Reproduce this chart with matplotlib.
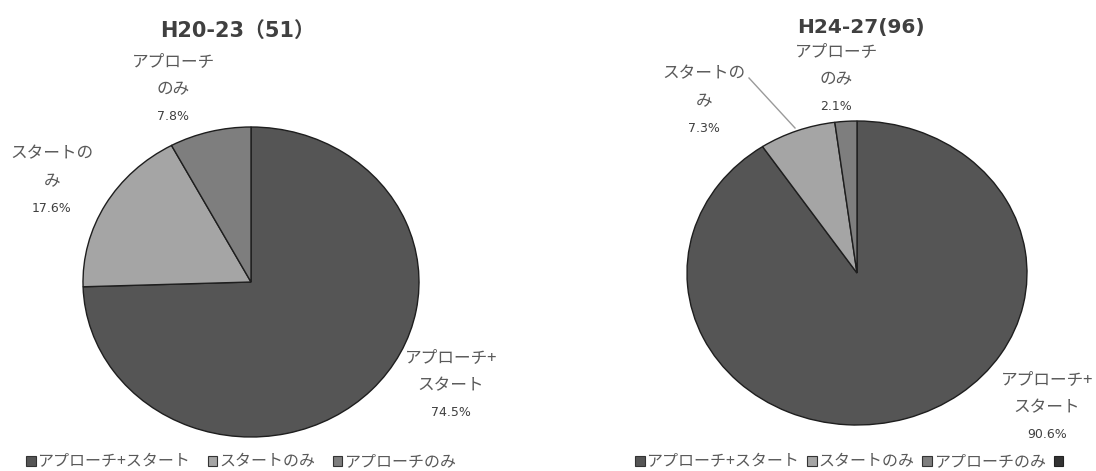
import matplotlib
matplotlib.use('Agg')
import matplotlib.pyplot as plt
from matplotlib.patches import Patch
from matplotlib.lines import Line2D

plt.rcParams['font.family'] = ['Noto Sans CJK JP', 'DejaVu Sans']
LATIN = ['DejaVu Sans', 'Noto Sans CJK JP']

W, H = 1096, 471

categories = ['アプローチ+スタート', 'スタートのみ', 'アプローチのみ']
slice_labels = ['アプローチ+\nスタート', 'スタートの\nみ', 'アプローチ\nのみ']
counts_h20 = [38, 9, 4]    # H20-23, n=51
counts_h24 = [87, 7, 2]    # H24-27, n=96
titles = ['H20-23（51）', 'H24-27(96)']
colors = ['#555555', '#a5a5a5', '#7e7e7e']

fig = plt.figure(figsize=(W / 100, H / 100), dpi=100)
fig.patch.set_facecolor('white')


def px(x, y):
    return x / W, 1 - y / H


def pie_axes(cx, cy, rx, ry):
    l, b = px(cx - rx, cy + ry)
    return fig.add_axes([l, b, 2 * rx / W, 2 * ry / H])


def draw_pie(ax, counts):
    wedges, _ = ax.pie(counts, colors=colors, startangle=90, counterclock=False,
                       radius=1, wedgeprops=dict(edgecolor='#1e1e1e', linewidth=1.0))
    for w in wedges:
        w.set_clip_on(False)
    ax.set_aspect('auto')
    ax.set_xlim(-1, 1)
    ax.set_ylim(-1, 1)
    ax.axis('off')


def label(x, y, name, count, total):
    pct = count / total * 100
    lines = name.split('\n')
    for i, t in enumerate(lines):
        fig.text(*px(x, y + i * 28), t, ha='center', va='center',
                 fontsize=12, color='#595959')
    fig.text(*px(x, y + len(lines) * 27), f'{pct:.1f}%', ha='center', va='center',
             fontsize=9, color='#404040', family=LATIN)


# 左：H20-23
ax1 = pie_axes(251, 282, 168, 155)
draw_pie(ax1, counts_h20)
fig.text(*px(238, 31), titles[0], ha='center', va='center',
         fontsize=15, fontweight='bold', color='#404040', family=LATIN)
t1 = sum(counts_h20)
label(451, 358, slice_labels[0], counts_h20[0], t1)
label(52, 154, slice_labels[1], counts_h20[1], t1)
label(173, 62, slice_labels[2], counts_h20[2], t1)

# 右：H24-27
ax2 = pie_axes(857, 273, 170, 152)
draw_pie(ax2, counts_h24)
fig.text(*px(861, 27), titles[1], ha='center', va='center',
         fontsize=14.5, fontweight='bold', color='#404040', family=LATIN)
t2 = sum(counts_h24)
label(1047, 380, slice_labels[0], counts_h24[0], t2)
label(704, 74, slice_labels[1], counts_h24[1], t2)
label(836, 52, slice_labels[2], counts_h24[2], t2)

# 引き出し線
x0, y0 = px(749, 78)
x1, y1 = px(795, 128)
fig.add_artist(Line2D([x0, x1], [y0, y1], color='#9a9a9a', linewidth=1.0))

handles = [Patch(facecolor=c, edgecolor='#333333', linewidth=0.8) for c in colors]
fig.legend(handles, categories, loc='center', bbox_to_anchor=px(241, 462),
           ncol=3, frameon=False, fontsize=11.5, handlelength=0.6, handleheight=0.6,
           handletextpad=0.1, columnspacing=1.1, labelcolor='#595959')
handles2 = handles + [Patch(facecolor='#333333', edgecolor='#222222', linewidth=0.8)]
fig.legend(handles2, categories + [''], loc='center', bbox_to_anchor=px(850, 462),
           ncol=4, frameon=False, fontsize=11.5, handlelength=0.6, handleheight=0.6,
           handletextpad=0.1, columnspacing=0.5, labelcolor='#595959')

fig.savefig('out.png', dpi=100)
